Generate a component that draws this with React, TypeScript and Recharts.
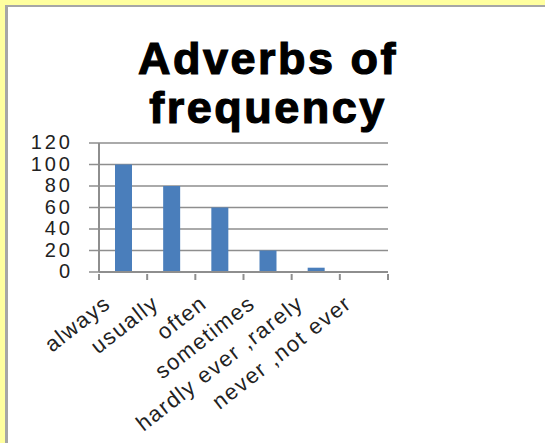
import React from 'react';
import { Bar, BarChart, CartesianGrid, XAxis, YAxis } from 'recharts';

const categories = ['always', 'usually', 'often', 'sometimes', 'hardly ever ,rarely', 'never ,not ever'];
const frequency = [100, 80, 60, 20, 4, 0];
const yTicks = [0, 20, 40, 60, 80, 100, 120];
const titleLines = ['Adverbs of', 'frequency'];

const data = categories.map((name, i) => ({ name, value: frequency[i] }));

const W = 545;
const H = 443;
const PLOT_LEFT = 99;
const PLOT_RIGHT = 388;
const BAND = (PLOT_RIGHT - PLOT_LEFT) / categories.length;
const GRAY = '#8e8e8e';

function XTick(props: any) {
  const { x, y, payload, index } = props;
  const half = BAND / 2;
  const last = index === categories.length - 1;
  const ax = x - 11;
  const ay = y + 32;
  return (
    <g>
      <line x1={x - half} y1={y} x2={x - half} y2={y + 6} stroke={GRAY} strokeWidth={2} />
      {last && <line x1={x + half} y1={y} x2={x + half} y2={y + 6} stroke={GRAY} strokeWidth={2} />}
      <text
        x={ax}
        y={ay}
        transform={`rotate(-38, ${ax}, ${ay})`}
        textAnchor="end"
        fontFamily="Arial, 'Liberation Sans', sans-serif"
        fontSize={22}
        letterSpacing={1.5}
        fill="#222"
      >
        {payload.value}
      </text>
    </g>
  );
}

function YTick(props: any) {
  const { y, payload } = props;
  return (
    <text
      x={73}
      y={y - 1}
      textAnchor="end"
      dominantBaseline="central"
      fontFamily="Arial, 'Liberation Sans', sans-serif"
      fontSize={20}
      letterSpacing={3}
      fill="#222"
    >
      {payload.value}
    </text>
  );
}

export default function App() {
  return (
    <div style={{ position: 'fixed', left: 0, top: 0, width: W, height: H, background: '#ffff9f', overflow: 'hidden' }}>
      <div
        style={{
          position: 'absolute',
          left: 5,
          top: 5,
          right: 0,
          bottom: 0,
          background: '#fff',
          borderLeft: '3px solid #a6a6a6',
          borderTop: '2px solid #a6a6a6',
        }}
      />
      <svg width={W} height={H} style={{ position: 'absolute', left: 0, top: 0 }}>
        {titleLines.map((t, i) => (
          <text
            key={t}
            x={268}
            y={74 + i * 49}
            textAnchor="middle"
            fontFamily="Arial, 'Liberation Sans', sans-serif"
            fontWeight="bold"
            fontSize={45}
            letterSpacing={2.5}
            fill="#000"
            stroke="#000"
            strokeWidth={1.2}
          >
            {t}
          </text>
        ))}
      </svg>
      <div style={{ position: 'absolute', left: 0, top: 0 }}>
        <BarChart
          width={W}
          height={H}
          data={data}
          margin={{ top: 143, left: PLOT_LEFT - 60, right: W - PLOT_RIGHT, bottom: 71 }}
        >
          <CartesianGrid vertical={false} stroke={GRAY} strokeWidth={1.5} />
          <XAxis
            dataKey="name"
            height={100}
            interval={0}
            tickSize={0}
            tickLine={false}
            axisLine={{ stroke: GRAY, strokeWidth: 2 }}
            tick={<XTick />}
          />
          <YAxis
            width={60}
            domain={[0, 120]}
            ticks={yTicks}
            interval={0}
            tickSize={10}
            tickLine={{ stroke: GRAY, strokeWidth: 1.5 }}
            axisLine={{ stroke: GRAY, strokeWidth: 2 }}
            tick={<YTick />}
          />
          <Bar dataKey="value" fill="#4a7ebb" barSize={17} isAnimationActive={false} />
        </BarChart>
      </div>
    </div>
  );
}
